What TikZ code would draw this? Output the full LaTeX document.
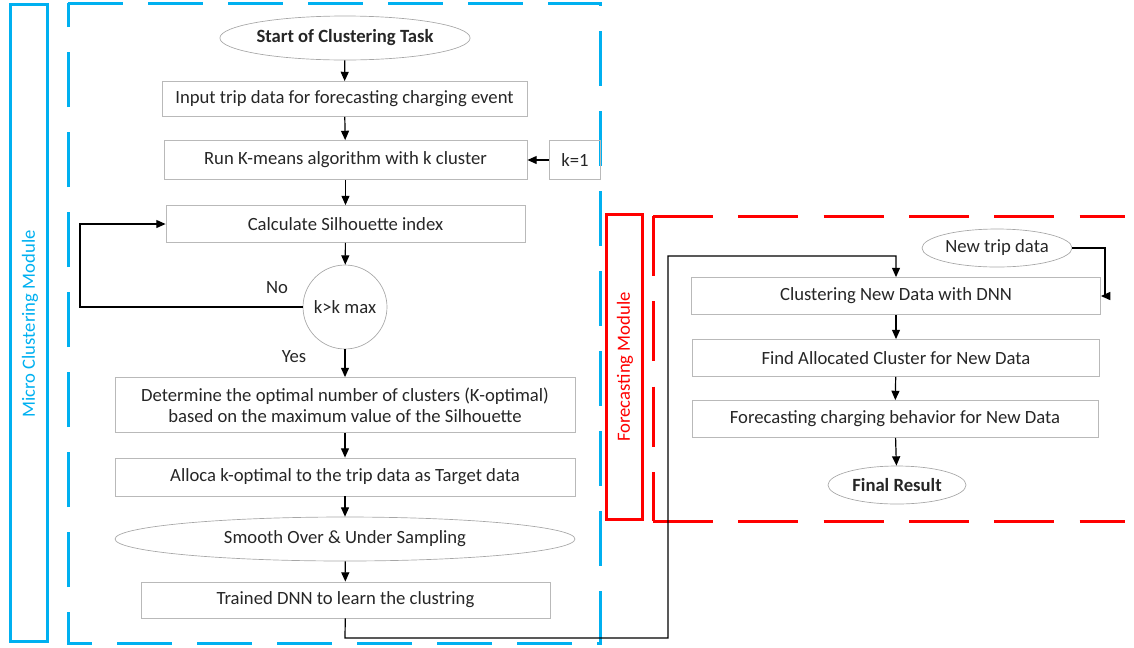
\documentclass[tikz,border=0pt]{standalone}
\usepackage{fontspec}
\setmainfont{Carlito}
\usetikzlibrary{arrows.meta,positioning,shapes.geometric}
\definecolor{skyblue}{RGB}{0,176,240}
\definecolor{modred}{RGB}{255,0,0}

\begin{document}
\begin{tikzpicture}[x=0.75pt,y=-0.75pt,
    font=\fontsize{14}{16}\selectfont,
    every node/.style={text=black!85},
    box/.style={rectangle,draw=gray!55,line width=0.6pt,inner sep=0pt,minimum height=27.75pt,align=center},
    oval/.style={ellipse,draw=gray!70,line width=0.5pt,inner sep=0pt},
    flow/.style={-{Triangle[length=7pt,width=6pt]},line width=0.9pt},
    bluedash/.style={draw=skyblue,line width=2.25pt,dash pattern=on 41pt off 19pt},
    reddash/.style={draw=modred,line width=2.25pt,dash pattern=on 45pt off 19pt}]
    \useasboundingbox (0,0) rectangle (1134,647);

    % module frames
    \draw[skyblue,line width=2.25pt] (10,4) rectangle (47,641);
    \node[rotate=90,text=skyblue] (microlbl) at (30,324) {Micro Clustering Module};
    \draw[bluedash] (68,3) -- (600,3) -- (600,643) -- (68,643) -- cycle;
    \draw[modred,line width=2.25pt] (606,214) rectangle (642,519);
    \node[rotate=90,text=modred] (forelbl) at (625,367) {Forecasting Module};
    \draw[reddash] (653,216) -- (1125,216);
    \draw[reddash] (653,521) -- (1125,521);
    \draw[reddash] (653,216) -- (653,521);

    % clustering part
    \node[oval,minimum width=187.5pt,minimum height=33pt,font=\fontsize{14}{16}\selectfont\bfseries] (start) at (345,38) {Start of Clustering Task};
    \node[box,minimum width=273.75pt,minimum height=26.25pt] (input) at (344.5,99) {Input trip data for forecasting charging event};
    \node[box,minimum width=272.25pt,minimum height=29.25pt] (run) at (345.5,160) {Run K-means algorithm with k cluster};
    \node[box,minimum width=38.25pt,minimum height=29.25pt] (kone) at (575,160) {k=1};
    \node[box,minimum width=269.25pt] (calc) at (345.5,224) {Calculate Silhouette index};
    \node[circle,draw=gray!70,line width=0.5pt,minimum size=63pt,inner sep=0pt] (check) at (345,307) {k>k max};
    \node[box,minimum width=345pt,minimum height=41.25pt] (optimal) at (345,405) {Determine the optimal number of clusters (K-optimal)\\based on the maximum value of the Silhouette};
    \node[box,minimum width=345pt,minimum height=28.5pt] (alloca) at (345,477) {Alloca k-optimal to the trip data as Target data};
    \node[oval,minimum width=345pt,minimum height=33pt] (smooth) at (345,539) {Smooth Over \& Under Sampling};
    \node[box,minimum width=306.75pt,minimum height=27pt] (trained) at (345.5,600) {Trained DNN to learn the clustring};

    \node (nolbl) at (277,288) {No};
    \node (yeslbl) at (294,357) {Yes};

    % forecasting part
    \node[oval,minimum width=112.5pt,minimum height=28.5pt] (newtrip) at (997,248) {New trip data};
    \node[box,minimum width=306.75pt] (cluster) at (896,296) {Clustering New Data with DNN};
    \node[box,minimum width=305.25pt] (find) at (896,358) {Find Allocated Cluster for New Data};
    \node[box,minimum width=304.5pt] (forecast) at (895,419) {Forecasting charging behavior for New Data};
    \node[oval,minimum width=103.5pt,minimum height=28.5pt,font=\fontsize{14}{16}\selectfont\bfseries] (final) at (897,485) {Final Result};

    \coordinate (loop) at (80,307);
    \coordinate (down) at (345,638);
    \coordinate (cross) at (668,638);
    \coordinate (up) at (668,256);
    \coordinate (side) at (1105,248);

    \draw[flow] (start) -- (input);
    \draw[flow] (input) -- (run);
    \draw[flow] (kone) -- (run);
    \draw[flow] (run) -- (calc);
    \draw[flow] (calc) -- (check);
    \draw[flow] (check.west) -- (loop) |- (calc.west);
    \draw[flow] (check) -- (optimal);
    \draw[flow] (optimal) -- (alloca);
    \draw[flow] (alloca) -- (smooth);
    \draw[flow] (smooth) -- (trained);
    \draw[flow] (trained) -- (down) -- (cross) -- (up) -| (cluster.north);
    \draw[flow] (newtrip.east) -- (side) |- (cluster.east);
    \draw[flow] (cluster) -- (find);
    \draw[flow] (find) -- (forecast);
    \draw[flow] (forecast) -- (final);
\end{tikzpicture}
\end{document}
